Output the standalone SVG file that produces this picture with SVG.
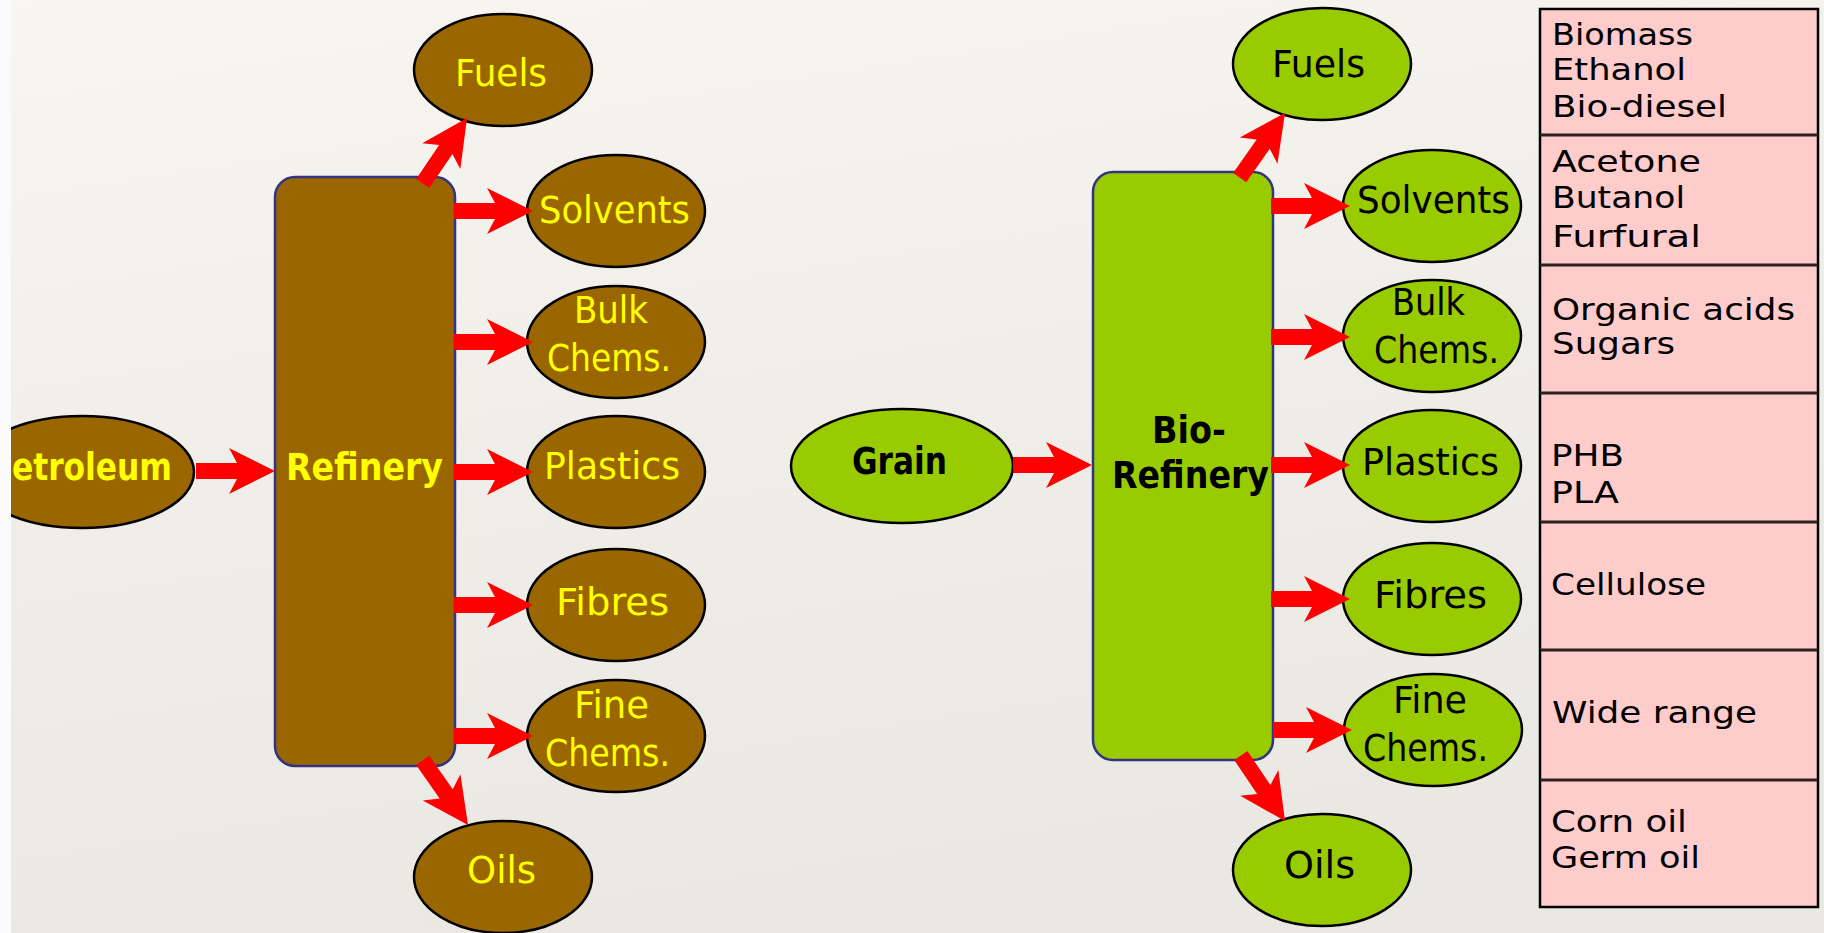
<svg xmlns="http://www.w3.org/2000/svg" xmlns:xlink="http://www.w3.org/1999/xlink" width="1824" height="933" viewBox="0 0 1824 933">
  <style>
    .lbl { font-family: "DejaVu Sans", "Liberation Sans", sans-serif; font-size: 37px; }
    .bold { font-weight: bold; }
    .yel { fill: #FFFF00; }
    .blk { fill: #000000; }
    .oilE { fill: #996600; stroke: #000000; stroke-width: 2.5; }
    .bioE { fill: #99CC00; stroke: #000000; stroke-width: 2.5; }
    .oilR { fill: #996600; stroke: #333380; stroke-width: 2.5; }
    .bioR { fill: #99CC00; stroke: #333380; stroke-width: 2.5; }
    .tbl { fill: #FFCCCC; stroke: #000000; stroke-width: 2.5; }
    .div { stroke: #2a2020; stroke-width: 3; }
    .cell { font-family: "DejaVu Sans", "Liberation Sans", sans-serif; font-size: 30px; fill: #000000; }
  </style>
  <defs>
    <linearGradient id="paper" x1="0" y1="0" x2="0.3" y2="1">
      <stop offset="0" stop-color="#F7F6F1"/>
      <stop offset="0.5" stop-color="#EFEEE9"/>
      <stop offset="1" stop-color="#E9E8E3"/>
    </linearGradient>
    <clipPath id="leftEdge">
      <rect x="11" y="0" width="1813" height="933"/>
    </clipPath>
    <!-- block arrow, tip at origin, pointing along +x -->
    <path id="arr" d="M0,0 L-46,-23 L-38,-8 L-79,-8 L-79,8 L-38,8 L-46,23 Z" fill="#FF0000"/>
  </defs>

  <!-- paper background -->
  <rect x="0" y="0" width="1824" height="933" fill="url(#paper)"/>
  <rect x="0" y="0" width="11" height="933" fill="#FBFBFB"/>

  <!-- petroleum refinery side -->
  <g id="petroleum" clip-path="url(#leftEdge)">
    <ellipse class="oilE" cx="82" cy="472" rx="112" ry="56"/>
    <text class="lbl bold yel" x="-11" y="480" textLength="183" lengthAdjust="spacingAndGlyphs">Petroleum</text>
  </g>
  <g id="refinery">
    <rect class="oilR" x="275" y="177" width="180" height="589" rx="20" ry="20"/>
    <text class="lbl bold yel" x="286" y="480" textLength="157" lengthAdjust="spacingAndGlyphs">Refinery</text>
  </g>
  <g id="oil-fuels">
    <ellipse class="oilE" cx="503" cy="70" rx="89" ry="56"/>
    <text class="lbl yel" x="455" y="86" textLength="92" lengthAdjust="spacingAndGlyphs">Fuels</text>
  </g>
  <g id="oil-solvents">
    <ellipse class="oilE" cx="616" cy="211" rx="89" ry="56"/>
    <text class="lbl yel" x="539" y="223" textLength="151" lengthAdjust="spacingAndGlyphs">Solvents</text>
  </g>
  <g id="oil-bulk">
    <ellipse class="oilE" cx="616" cy="342" rx="89" ry="56"/>
    <text class="lbl yel" x="574" y="323" textLength="74" lengthAdjust="spacingAndGlyphs">Bulk</text>
    <text class="lbl yel" x="547" y="371" textLength="124" lengthAdjust="spacingAndGlyphs">Chems.</text>
  </g>
  <g id="oil-plastics">
    <ellipse class="oilE" cx="616" cy="472" rx="89" ry="56"/>
    <text class="lbl yel" x="544" y="479" textLength="136" lengthAdjust="spacingAndGlyphs">Plastics</text>
  </g>
  <g id="oil-fibres">
    <ellipse class="oilE" cx="616" cy="605" rx="89" ry="56"/>
    <text class="lbl yel" x="556" y="615" textLength="113" lengthAdjust="spacingAndGlyphs">Fibres</text>
  </g>
  <g id="oil-finechems">
    <ellipse class="oilE" cx="616" cy="736" rx="89" ry="56"/>
    <text class="lbl yel" x="574" y="718" textLength="75" lengthAdjust="spacingAndGlyphs">Fine</text>
    <text class="lbl yel" x="545" y="766" textLength="125" lengthAdjust="spacingAndGlyphs">Chems.</text>
  </g>
  <g id="oil-oils">
    <ellipse class="oilE" cx="503" cy="877" rx="89" ry="56"/>
    <text class="lbl yel" x="467" y="883" textLength="69" lengthAdjust="spacingAndGlyphs">Oils</text>
  </g>

  <!-- bio-refinery side -->
  <g id="grain">
    <ellipse class="bioE" cx="902" cy="466" rx="111" ry="57"/>
    <text class="lbl bold blk" x="852" y="474" textLength="95" lengthAdjust="spacingAndGlyphs">Grain</text>
  </g>
  <g id="biorefinery">
    <rect class="bioR" x="1093" y="172" width="180" height="588" rx="20" ry="20"/>
    <text class="lbl bold blk" x="1152" y="443" textLength="74" lengthAdjust="spacingAndGlyphs">Bio-</text>
    <text class="lbl bold blk" x="1112" y="488" textLength="157" lengthAdjust="spacingAndGlyphs">Refinery</text>
  </g>
  <g id="bio-fuels">
    <ellipse class="bioE" cx="1322" cy="64" rx="89" ry="56"/>
    <text class="lbl blk" x="1272" y="77" textLength="93" lengthAdjust="spacingAndGlyphs">Fuels</text>
  </g>
  <g id="bio-solvents">
    <ellipse class="bioE" cx="1432" cy="206" rx="89" ry="56"/>
    <text class="lbl blk" x="1357" y="213" textLength="153" lengthAdjust="spacingAndGlyphs">Solvents</text>
  </g>
  <g id="bio-bulk">
    <ellipse class="bioE" cx="1432" cy="336" rx="89" ry="56"/>
    <text class="lbl blk" x="1392" y="315" textLength="73" lengthAdjust="spacingAndGlyphs">Bulk</text>
    <text class="lbl blk" x="1374" y="363" textLength="125" lengthAdjust="spacingAndGlyphs">Chems.</text>
  </g>
  <g id="bio-plastics">
    <ellipse class="bioE" cx="1432" cy="466" rx="89" ry="56"/>
    <text class="lbl blk" x="1362" y="475" textLength="137" lengthAdjust="spacingAndGlyphs">Plastics</text>
  </g>
  <g id="bio-fibres">
    <ellipse class="bioE" cx="1432" cy="599" rx="89" ry="56"/>
    <text class="lbl blk" x="1374" y="608" textLength="113" lengthAdjust="spacingAndGlyphs">Fibres</text>
  </g>
  <g id="bio-finechems">
    <ellipse class="bioE" cx="1433" cy="730" rx="89" ry="56"/>
    <text class="lbl blk" x="1393" y="713" textLength="74" lengthAdjust="spacingAndGlyphs">Fine</text>
    <text class="lbl blk" x="1363" y="761" textLength="125" lengthAdjust="spacingAndGlyphs">Chems.</text>
  </g>
  <g id="bio-oils">
    <ellipse class="bioE" cx="1322" cy="870" rx="89" ry="56"/>
    <text class="lbl blk" x="1284" y="878" textLength="71" lengthAdjust="spacingAndGlyphs">Oils</text>
  </g>

  <!-- product examples table -->
  <g id="examples">
    <rect class="tbl" x="1540" y="9" width="278" height="898"/>
    <line class="div" x1="1540" y1="135" x2="1818" y2="135"/>
    <line class="div" x1="1540" y1="265" x2="1818" y2="265"/>
    <line class="div" x1="1540" y1="393" x2="1818" y2="393"/>
    <line class="div" x1="1540" y1="522" x2="1818" y2="522"/>
    <line class="div" x1="1540" y1="650" x2="1818" y2="650"/>
    <line class="div" x1="1540" y1="780" x2="1818" y2="780"/>
    <text class="cell" x="1552" y="45" textLength="141" lengthAdjust="spacingAndGlyphs">Biomass</text>
    <text class="cell" x="1552" y="80" textLength="134" lengthAdjust="spacingAndGlyphs">Ethanol</text>
    <text class="cell" x="1552" y="117" textLength="175" lengthAdjust="spacingAndGlyphs">Bio-diesel</text>
    <text class="cell" x="1552" y="172" textLength="149" lengthAdjust="spacingAndGlyphs">Acetone</text>
    <text class="cell" x="1552" y="208" textLength="133" lengthAdjust="spacingAndGlyphs">Butanol</text>
    <text class="cell" x="1552" y="247" textLength="149" lengthAdjust="spacingAndGlyphs">Furfural</text>
    <text class="cell" x="1552" y="320" textLength="243" lengthAdjust="spacingAndGlyphs">Organic acids</text>
    <text class="cell" x="1552" y="354" textLength="123" lengthAdjust="spacingAndGlyphs">Sugars</text>
    <text class="cell" x="1551" y="466" textLength="73" lengthAdjust="spacingAndGlyphs">PHB</text>
    <text class="cell" x="1551" y="503" textLength="68" lengthAdjust="spacingAndGlyphs">PLA</text>
    <text class="cell" x="1551" y="595" textLength="155" lengthAdjust="spacingAndGlyphs">Cellulose</text>
    <text class="cell" x="1552" y="723" textLength="205" lengthAdjust="spacingAndGlyphs">Wide range</text>
    <text class="cell" x="1551" y="832" textLength="136" lengthAdjust="spacingAndGlyphs">Corn oil</text>
    <text class="cell" x="1551" y="868" textLength="149" lengthAdjust="spacingAndGlyphs">Germ oil</text>
  </g>

  <!-- flow arrows -->
  <g id="connectors">
    <use xlink:href="#arr" transform="translate(275,471)"/>
    <use xlink:href="#arr" transform="translate(467,118) rotate(-56)"/>
    <use xlink:href="#arr" transform="translate(533,211)"/>
    <use xlink:href="#arr" transform="translate(533,342)"/>
    <use xlink:href="#arr" transform="translate(533,472)"/>
    <use xlink:href="#arr" transform="translate(533,605)"/>
    <use xlink:href="#arr" transform="translate(533,736)"/>
    <use xlink:href="#arr" transform="translate(468,825) rotate(55)"/>

    <use xlink:href="#arr" transform="translate(1092,465)"/>
    <use xlink:href="#arr" transform="translate(1285,113) rotate(-55)"/>
    <use xlink:href="#arr" transform="translate(1350,206)"/>
    <use xlink:href="#arr" transform="translate(1350,337)"/>
    <use xlink:href="#arr" transform="translate(1350,465)"/>
    <use xlink:href="#arr" transform="translate(1350,599)"/>
    <use xlink:href="#arr" transform="translate(1352,730)"/>
    <use xlink:href="#arr" transform="translate(1285,821) rotate(56)"/>
  </g>
</svg>
